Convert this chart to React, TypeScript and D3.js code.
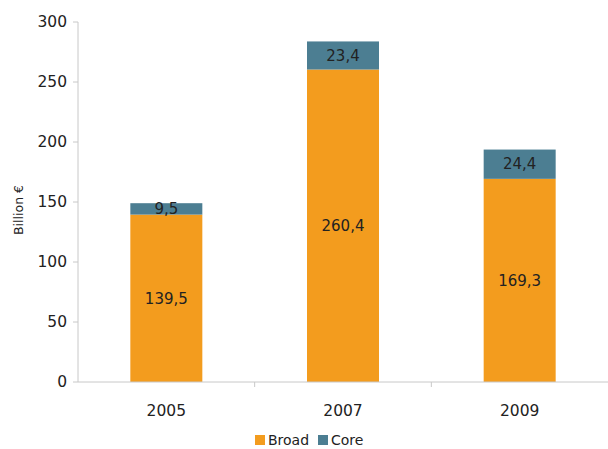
import React from "react";
import * as d3 from "d3";

const categories = ["2005", "2007", "2009"];
const broad = [139.5, 260.4, 169.3];
const core = [9.5, 23.4, 24.4];
const yTicks = [0, 50, 100, 150, 200, 250, 300];
const seriesNames = ["Broad", "Core"];
const colors = ["#F39C1E", "#4C7E92"];

const W = 608, H = 449;
const left = 78, right = 608, top = 22, bottom = 382;

export default function App() {
  const x = d3.scaleBand<string>().domain(categories).range([left, right]).paddingInner(0).paddingOuter(0);
  const y = d3.scaleLinear().domain([0, 300]).range([bottom, top]);
  const bw = 72;
  const fmt = (v: number) => v.toFixed(1).replace(".", ",");
  const font = "'DejaVu Sans', Verdana, sans-serif";
  return (
    <svg width={W} height={H} style={{ position: "absolute", left: 0, top: 0, background: "#fff" }} fontFamily={font}>
      {categories.map((c, i) => {
        const cx = x(c)! + x.bandwidth() / 2;
        const b0 = y(0), b1 = y(broad[i]), c1 = y(broad[i] + core[i]);
        return (
          <g key={c}>
            <rect x={cx - bw / 2} y={b1} width={bw} height={b0 - b1} fill={colors[0]} />
            <rect x={cx - bw / 2} y={c1} width={bw} height={b1 - c1} fill={colors[1]} />
            <text x={cx} y={(b0 + b1) / 2} dy="0.35em" textAnchor="middle" fontSize={15} fill="#222">{fmt(broad[i])}</text>
            <text x={cx} y={(b1 + c1) / 2} dy="0.35em" textAnchor="middle" fontSize={15} fill="#222">{fmt(core[i])}</text>
          </g>
        );
      })}
      <line x1={left} x2={left} y1={top} y2={bottom} stroke="#c8c8c8" />
      {yTicks.map((t) => (
        <g key={t}>
          <line x1={left - 5} x2={left} y1={y(t)} y2={y(t)} stroke="#c8c8c8" />
          <text x={left - 11} y={y(t)} dy="0.35em" textAnchor="end" fontSize={15.5} fill="#222">{t}</text>
        </g>
      ))}
      <line x1={left} x2={right} y1={bottom} y2={bottom} stroke="#c8c8c8" />
      {categories.map((c, i) => (
        <g key={c}>
          {i > 0 && <line x1={x(c)!} x2={x(c)!} y1={bottom} y2={bottom + 5} stroke="#c8c8c8" />}
          <text x={x(c)! + x.bandwidth() / 2} y={411} dy="0.35em" textAnchor="middle" fontSize={15.5} fill="#222">{c}</text>
        </g>
      ))}
      <text transform={`translate(23,${(top + bottom) / 2 + 8}) rotate(-90)`} textAnchor="middle" fontSize={12.5} fill="#222">Billion €</text>
      {seriesNames.map((s, i) => {
        const lx = [255, 318][i];
        return (
          <g key={s}>
            <rect x={lx} y={435} width={10} height={10} fill={colors[i]} />
            <text x={lx + 13} y={440.5} dy="0.35em" fontSize={14} fill="#222">{s}</text>
          </g>
        );
      })}
    </svg>
  );
}
